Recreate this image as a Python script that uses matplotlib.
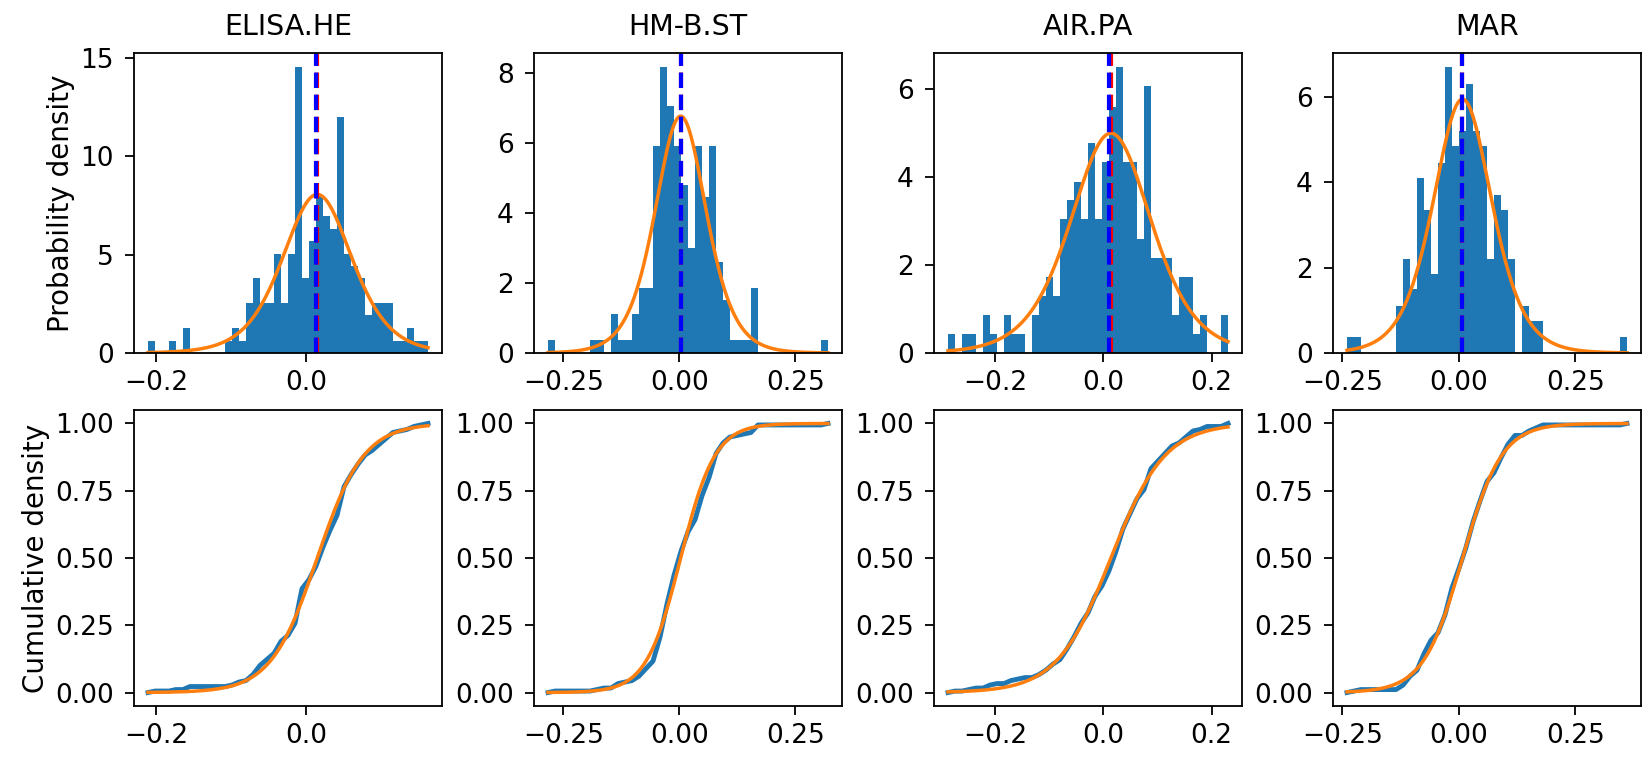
import numpy as np
import matplotlib
matplotlib.use("Agg")
import matplotlib.pyplot as plt

# Values
names = ["ELISA.HE", "HM-B.ST", "AIR.PA", "MAR"]

# smallest / largest observation of each series (histograms use 40 equal bins between them)
data_min = [-0.2107, -0.2829, -0.2867, -0.2400]
data_max = [0.1627, 0.3205, 0.2302, 0.3610]

# bar heights (probability density), 40 bins per series
dens_elisa = [0.63, 0, 0, 0.63, 0, 1.26, 0, 0, 0, 0,
              0, 0.63, 1.26, 0.63, 2.53, 3.82, 2.53, 2.53, 5.06, 2.53,
              5.06, 14.53, 3.82, 5.69, 8.0, 6.98, 6.33, 11.99, 5.06, 4.43,
              3.82, 1.92, 2.53, 2.53, 2.53, 0.63, 0.63, 1.26, 0.63, 0.63]
dens_hm = [0.37, 0, 0, 0, 0, 0, 0.37, 0.37, 0, 1.1,
           0.37, 0.37, 1.1, 1.85, 1.85, 5.9, 8.15, 7.05, 5.9, 4.8,
           3.0, 5.9, 4.45, 5.9, 2.6, 1.5, 0.37, 0.37, 0.37, 1.85,
           0, 0, 0, 0, 0, 0, 0, 0, 0, 0.37]
dens_air = [0.43, 0, 0.43, 0.43, 0, 0.87, 0.43, 0, 0.87, 0.43,
            0.43, 0, 0.87, 1.3, 1.73, 1.3, 3.05, 3.47, 3.9, 3.05,
            4.77, 3.05, 4.35, 5.6, 6.5, 4.35, 4.35, 2.6, 6.07, 2.17,
            2.17, 2.17, 0.87, 1.73, 1.73, 0.43, 0.87, 0, 0, 0.87]
dens_mar = [0.37, 0.37, 0, 0, 0, 0, 0, 1.1, 2.2, 1.5,
            4.1, 3.35, 1.85, 4.45, 6.7, 4.85, 5.2, 6.3, 5.2, 4.85,
            2.2, 3.7, 3.35, 2.2, 0, 1.1, 0.75, 0.75, 0, 0,
            0, 0, 0, 0, 0, 0, 0, 0, 0, 0.37]
densities = [dens_elisa, dens_hm, dens_air, dens_mar]

# fitted logistic distribution (location, scale)
fit_loc = [0.015, 0.003, 0.014, 0.008]
fit_scale = [0.031, 0.037, 0.050, 0.042]

# vertical reference lines
median_vals = [0.0145, 0.003, 0.0135, 0.0064]
mean_vals = [0.013, 0.003, 0.011, 0.0064]

xticks = [[-0.2, 0.0], [-0.25, 0.0, 0.25], [-0.2, 0.0, 0.2], [-0.25, 0.0, 0.25]]
yticks_cdf = [0.0, 0.25, 0.5, 0.75, 1.0]


def logistic_pdf(x, loc, scale):
    z = np.exp(-(x - loc) / scale)
    return z / (scale * (1 + z) ** 2)


def logistic_cdf(x, loc, scale):
    return 1 / (1 + np.exp(-(x - loc) / scale))


plt.rcParams['font.family'] = 'DejaVu Sans'
plt.rcParams['font.size'] = 19
plt.rcParams['axes.linewidth'] = 1.3
plt.rcParams['xtick.major.width'] = 1.3
plt.rcParams['ytick.major.width'] = 1.3
plt.rcParams['xtick.major.size'] = 6.5
plt.rcParams['ytick.major.size'] = 6.5
plt.rcParams['xtick.major.pad'] = 6
plt.rcParams['ytick.major.pad'] = 8

W, H = 1646, 757
fig = plt.figure(figsize=(W / 100, H / 100), dpi=100)

col_left = [134, 534, 934, 1333]
ax_w = 308
rows = [(53, 353), (410, 706)]  # top / bottom pixel of each row

for i in range(4):
    edges = np.linspace(data_min[i], data_max[i], 41)
    dens = np.array(densities[i])
    xs = np.linspace(data_min[i], data_max[i], 400)

    # histogram + fitted pdf
    top, bot = rows[0]
    ax = fig.add_axes([col_left[i] / W, 1 - bot / H, ax_w / W, (bot - top) / H])
    ax.hist(edges[:-1], bins=edges, weights=dens, color='#1f77b4')
    ax.plot(xs, logistic_pdf(xs, fit_loc[i], fit_scale[i]), color='#ff7f0e', lw=2.5)
    ax.axvline(median_vals[i], color='red', ls='--', lw=3)
    ax.axvline(mean_vals[i], color='blue', ls='--', lw=3)
    ax.set_xticks(xticks[i])
    ax.set_title(names[i], fontsize=20.5, pad=13)
    if i == 0:
        ax.set_ylabel('Probability density', fontsize=20)

    # empirical vs fitted cdf
    top, bot = rows[1]
    ax2 = fig.add_axes([col_left[i] / W, 1 - bot / H, ax_w / W, (bot - top) / H])
    cum = np.concatenate([[0], np.cumsum(dens)]) / dens.sum()
    ax2.plot(edges, cum, color='#1f77b4', lw=3.5)
    ax2.plot(xs, logistic_cdf(xs, fit_loc[i], fit_scale[i]), color='#ff7f0e', lw=2.5)
    ax2.set_xticks(xticks[i])
    ax2.set_yticks(yticks_cdf)
    if i == 0:
        ax2.set_ylabel('Cumulative density', fontsize=20)

fig.savefig('out.png', dpi=100)
